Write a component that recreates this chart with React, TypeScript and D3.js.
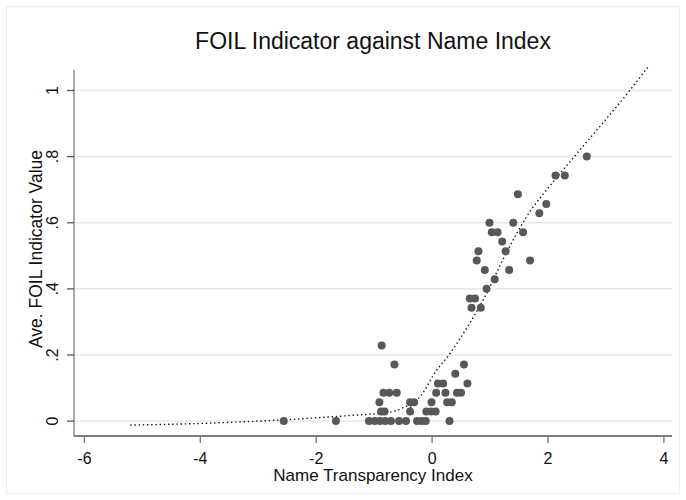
import React from 'react';
import * as d3 from 'd3';

// scatter: name transparency index vs average FOIL indicator
const nameIndex = [
  -2.56, -1.66, -1.09, -0.99, -0.9, -0.81, -0.71, -0.57, -0.45, -0.26, -0.18, -0.11, 0.3,
  -0.88, -0.82, -0.38, -0.1, -0.02, 0.06,
  -0.91, -0.38, -0.31, -0.01, 0.26, 0.34,
  -0.84, -0.74, -0.61, 0.07, 0.23, 0.43, 0.5,
  0.1, 0.19, 0.61,
  0.4,
  -0.65, 0.55,
  -0.87,
  0.68, 0.84,
  0.65, 0.74,
  0.94,
  1.08,
  0.91, 1.33,
  0.77, 1.69,
  0.8, 1.27,
  1.21,
  1.03, 1.13, 1.57,
  0.99, 1.4,
  1.85,
  1.97,
  1.48,
  2.13, 2.29,
  2.67,
];
const foilValue = [
  0, 0, 0, 0, 0, 0, 0, 0, 0, 0, 0, 0, 0,
  0.029, 0.029, 0.029, 0.029, 0.029, 0.029,
  0.057, 0.057, 0.057, 0.057, 0.057, 0.057,
  0.086, 0.086, 0.086, 0.086, 0.086, 0.086, 0.086,
  0.114, 0.114, 0.114,
  0.143,
  0.171, 0.171,
  0.229,
  0.343, 0.343,
  0.371, 0.371,
  0.4,
  0.429,
  0.457, 0.457,
  0.486, 0.486,
  0.514, 0.514,
  0.543,
  0.571, 0.571, 0.571,
  0.6, 0.6,
  0.629,
  0.657,
  0.686,
  0.743, 0.743,
  0.8,
];

// lowess fit
const fitX = [-5.21, -4, -3, -2.56, -2, -1.5, -1.09, -0.84, -0.7, -0.53, -0.45, -0.36, -0.25, -0.12, 0, 0.04, 0.31, 0.61, 0.88, 1.29, 1.63, 2.09, 2.55, 3.41, 3.73];
const fitY = [-0.012, -0.007, 0, 0.004, 0.01, 0.016, 0.021, 0.024, 0.028, 0.038, 0.045, 0.042, 0.065, 0.095, 0.133, 0.144, 0.205, 0.285, 0.366, 0.512, 0.618, 0.724, 0.82, 1.0, 1.072];

const xTicks = [-6, -4, -2, 0, 2, 4];
const yTicks = [0, 0.2, 0.4, 0.6, 0.8, 1];
const yTickLabels = ['0', '.2', '.4', '.6', '.8', '1'];

const W = 686;
const H = 500;
const plot = { left: 74, right: 672, top: 70, bottom: 436 };

export default function App() {
  const x = d3.scaleLinear().domain([-6.18, 4.14]).range([plot.left, plot.right]);
  const y = d3.scaleLinear().domain([-0.045, 1.062]).range([plot.bottom, plot.top]);

  const fitPts: [number, number][] = fitX.map((v, i) => [v, fitY[i]]);
  const fitPath = d3.line<[number, number]>()
    .x(d => x(d[0]))
    .y(d => y(d[1]))
    .curve(d3.curveMonotoneX)(fitPts);

  const font = 'Arial, "Liberation Sans", sans-serif';

  return (
    <svg width={W} height={H} style={{ position: 'absolute', left: 0, top: 0, background: '#fff' }} fontFamily={font}>
      <rect x={6.5} y={6.5} width={W - 13} height={H - 13} fill="#fff" stroke="#ececec" />

      {/* gridlines */}
      {yTicks.map(t => (
        <line key={'g' + t} x1={plot.left} x2={plot.right} y1={y(t)} y2={y(t)} stroke="#e8e8e8" strokeWidth={1.5} />
      ))}

      {/* fitted line */}
      <path d={fitPath || ''} fill="none" stroke="#111" strokeWidth={1.4} strokeDasharray="1.4 2.8" />

      {/* points */}
      {nameIndex.map((v, i) => (
        <circle key={i} cx={x(v)} cy={y(foilValue[i])} r={4} fill="#585858" />
      ))}

      {/* y axis */}
      <line x1={plot.left} x2={plot.left} y1={plot.top} y2={plot.bottom} stroke="#7a7a7a" strokeWidth={1.3} />
      {yTicks.map((t, i) => (
        <g key={'y' + t}>
          <line x1={plot.left - 7} x2={plot.left} y1={y(t)} y2={y(t)} stroke="#555" strokeWidth={1.3} />
          <text transform={`translate(57.5,${y(t)}) rotate(-90)`} textAnchor="middle" fontSize={16} fill="#111">
            {yTickLabels[i]}
          </text>
        </g>
      ))}

      {/* x axis */}
      <line x1={plot.left} x2={plot.right} y1={plot.bottom} y2={plot.bottom} stroke="#555" strokeWidth={1.3} />
      {xTicks.map(t => (
        <g key={'x' + t}>
          <line x1={x(t)} x2={x(t)} y1={plot.bottom} y2={plot.bottom + 7} stroke="#777" strokeWidth={1.3} />
          <text x={x(t)} y={464} textAnchor="middle" fontSize={16} fill="#111">
            {t}
          </text>
        </g>
      ))}

      {/* titles */}
      <text x={(plot.left + plot.right) / 2} y={49} textAnchor="middle" fontSize={23} fill="#111">
        FOIL Indicator against Name Index
      </text>
      <text x={(plot.left + plot.right) / 2} y={481} textAnchor="middle" fontSize={17} fill="#111">
        Name Transparency Index
      </text>
      <text transform="translate(41.5,249) rotate(-90)" textAnchor="middle" fontSize={17.5} fill="#111">
        Ave. FOIL Indicator Value
      </text>
    </svg>
  );
}
